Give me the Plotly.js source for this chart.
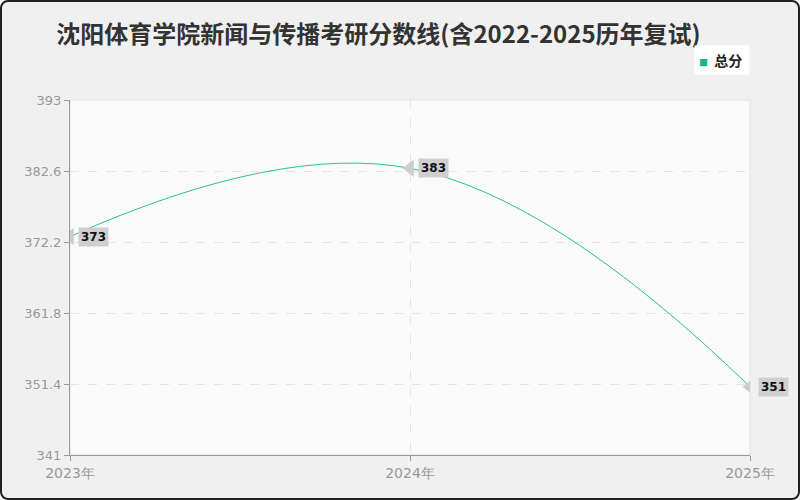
<!DOCTYPE html>
<html>
<head>
<meta charset="utf-8">
<script src="https://cdn.plot.ly/plotly-3.0.1.min.js"></script>
<style>
  html, body { margin:0; padding:0; background:#ffffff; }
  #frame { width:800px; height:500px; box-sizing:border-box; border:2px solid #222; border-radius:8px; background:#f0f0f0; overflow:hidden; }
  #plot { width:796px; height:496px; }
</style>
</head>
<body>
<div id="frame"><div id="plot"></div></div>
<script>
var years = [2023, 2024, 2025];
var year_labels = ['2023年', '2024年', '2025年'];
var scores = [373, 383, 351];
var y_ticks = [341, 351.4, 361.8, 372.2, 382.6, 393];
var series_name = '总分';

var plotDiv = document.getElementById('plot');

var line_trace = {
   name: series_name,
   x: years,
   y: scores,
   mode: 'lines',
   line: {shape: 'spline', smoothing: 1.2, width: 1, color: '#2fbf8f'},
   showlegend: false,
   hoverinfo: 'x+y'
};
var tip_trace = {
   x: years,
   y: scores,
   mode: 'markers',
   marker: {symbol: 'triangle-left', size: 15, color: '#cccccc'},
   showlegend: false,
   hoverinfo: 'skip'
};

var annotations = years.map(function(yr, i) {
   return {
      x: yr, y: scores[i],
      xref: 'x', yref: 'y',
      text: '<b>' + scores[i] + '</b>',
      showarrow: false,
      xanchor: 'left',
      xshift: 8,
      bgcolor: '#cfcfcf',
      borderpad: 2,
      font: {family: 'DejaVu Sans', size: 12, color: '#111'}
   };
});

// legend drawn as a small white box in the top right corner
annotations.push({
   xref: 'paper', yref: 'paper',
   x: 1, y: 1.112,
   xanchor: 'right', yanchor: 'middle',
   text: '<span style="color:#1db57f;font-size:9px">■</span>  <b>' + series_name + '</b> ',
   showarrow: false,
   bgcolor: '#ffffff',
   borderpad: 4,
   font: {family: 'Noto Sans CJK SC', size: 14, color: '#222'}
});

Plotly.newPlot(plotDiv, [line_trace, tip_trace], {
   width: 796,
   height: 496,
   margin: {l: 68, r: 48, t: 98, b: 43},
   paper_bgcolor: 'rgba(0,0,0,0)',
   plot_bgcolor: '#fafafa',
   title: {
      text: '<b>沈阳体育学院新闻与传播考研分数线(含2022-2025历年复试)</b>',
      font: {family: 'Noto Sans CJK SC', size: 24, color: '#333'},
      x: 0.473, xanchor: 'center',
      y: 0.934, yanchor: 'middle'
   },
   xaxis: {
      range: [2023, 2025],
      tickvals: years,
      ticktext: year_labels,
      showgrid: true,
      gridcolor: '#e4e4e4',
      griddash: 'dash',
      gridwidth: 1,
      showline: true,
      linecolor: '#999',
      ticks: 'outside',
      ticklen: 5,
      tickcolor: '#999',
      tickfont: {family: 'DejaVu Sans', size: 14, color: '#999'},
      zeroline: false
   },
   yaxis: {
      range: [341, 393],
      tickvals: y_ticks,
      ticktext: y_ticks.map(String),
      showgrid: true,
      gridcolor: '#e4e4e4',
      griddash: 'dash',
      gridwidth: 1,
      showline: true,
      linecolor: '#999',
      ticks: 'outside',
      ticklen: 5,
      tickcolor: '#999',
      tickfont: {family: 'DejaVu Sans', size: 13, color: '#999'},
      zeroline: false
   },
   shapes: [{
      type: 'rect', xref: 'paper', yref: 'paper', x0: 0, x1: 1, y0: 0, y1: 1,
      line: {color: '#e2e2e2', width: 1}, layer: 'below'
   }],
   annotations: annotations,
   showlegend: false
}, {displayModeBar: false});
</script>
</body>
</html>
